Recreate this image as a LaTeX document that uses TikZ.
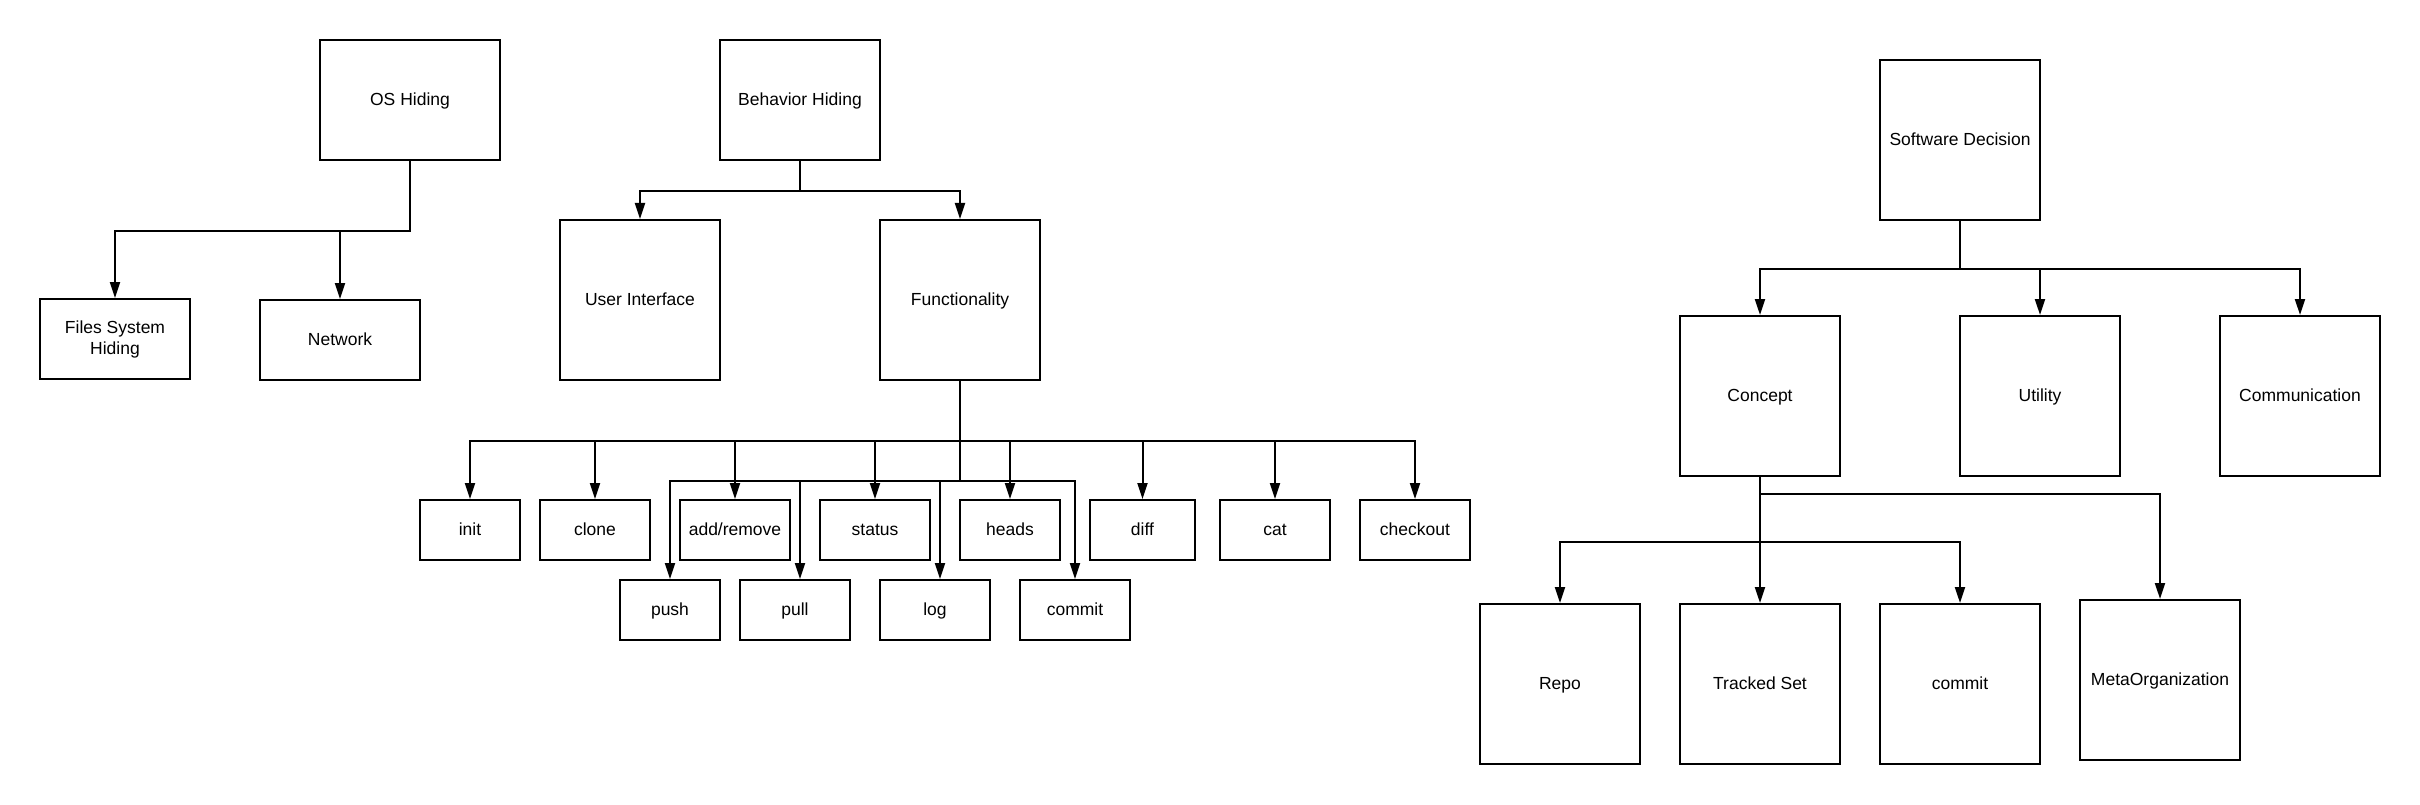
\documentclass[tikz,border=0pt]{standalone}
\usepackage{fontspec}
\setmainfont{Liberation Sans}
\usepackage{tikz}
\usetikzlibrary{arrows.meta}

\begin{document}
\begin{tikzpicture}[x=1pt,y=-1pt,
	lbl/.style={draw, line width=2pt, inner sep=0pt, align=center,
		font=\fontsize{17.5}{21}\selectfont},
	box/.style={lbl, text height=14pt, text depth=3pt},
	sq/.style={box, minimum width=160pt, minimum height=160pt},
	cmd/.style={box, minimum width=110pt, minimum height=60pt},
	arr/.style={line width=2pt, -{Triangle[length=16pt,width=10pt]}}]
	\useasboundingbox (0,0) rectangle (2420,805);

	% OS hiding
	\node (oshid) [box, minimum width=180pt, minimum height=120pt] at (410,100) {OS Hiding};
	\node (fshid) [lbl, minimum width=150pt, minimum height=80pt] at (115,339) {Files System\\Hiding};
	\node (net) [box, minimum width=160pt, minimum height=80pt] at (340,340) {Network};
	\draw[arr] (oshid.south) -- ++(0,70) -| (fshid.north);
	\draw[arr] (oshid.south) -- ++(0,70) -| (net.north);

	% behavior hiding
	\node (behhid) [box, minimum width=160pt, minimum height=120pt] at (800,100) {Behavior Hiding};
	\node (ui) [sq] at (640,300) {User Interface};
	\node (func) [sq] at (960,300) {Functionality};
	\draw[arr] (behhid.south) -- ++(0,30) -| (ui.north);
	\draw[arr] (behhid.south) -- ++(0,30) -| (func.north);

	\node (init) [cmd, minimum width=100pt] at (470,530) {init};
	\node (clone) [cmd] at (595,530) {clone};
	\node (addrm) [cmd] at (735,530) {add/remove};
	\node (status) [cmd] at (875,530) {status};
	\node (heads) [cmd, minimum width=100pt] at (1010,530) {heads};
	\node (diff) [cmd, minimum width=105pt] at (1142.5,530) {diff};
	\node (cat) [cmd] at (1275,530) {cat};
	\node (checkout) [cmd] at (1415,530) {checkout};
	\foreach \n in {init,clone,addrm,status,heads,diff,cat,checkout}
		\draw[arr] (func.south) -- ++(0,60) -| (\n.north);

	\node (push) [cmd, minimum width=100pt] at (670,610) {push};
	\node (pull) [cmd] at (795,610) {pull};
	\node (log) [cmd] at (935,610) {log};
	\node (commita) [cmd] at (1075,610) {commit};
	\draw[arr] (func.south) -- ++(0,100) -| (push.north);
	\draw[arr] (func.south) -- ++(0,100) -| ([xshift=5pt]pull.north);
	\draw[arr] (func.south) -- ++(0,100) -| ([xshift=5pt]log.north);
	\draw[arr] (func.south) -- ++(0,100) -| (commita.north);

	% software decision
	\node (swdec) [sq] at (1960,140) {Software Decision};
	\node (concept) [sq] at (1760,396) {Concept};
	\node (util) [sq] at (2040,396) {Utility};
	\node (comm) [sq] at (2300,396) {Communication};
	\foreach \n in {concept,util,comm}
		\draw[arr] (swdec.south) -- ++(0,48) -| (\n.north);

	\node (repo) [sq] at (1560,684) {Repo};
	\node (tracked) [sq] at (1760,684) {Tracked Set};
	\node (commitb) [sq] at (1960,684) {commit};
	\node (meta) [sq] at (2160,680) {MetaOrganization};
	\draw[arr] (concept.south) -- ++(0,17) -| (meta.north);
	\draw[arr] (concept.south) -- ++(0,65) -| (repo.north);
	\draw[arr] (concept.south) -- ++(0,65) -| (commitb.north);
	\draw[arr] (concept.south) -- (tracked.north);
\end{tikzpicture}
\end{document}
